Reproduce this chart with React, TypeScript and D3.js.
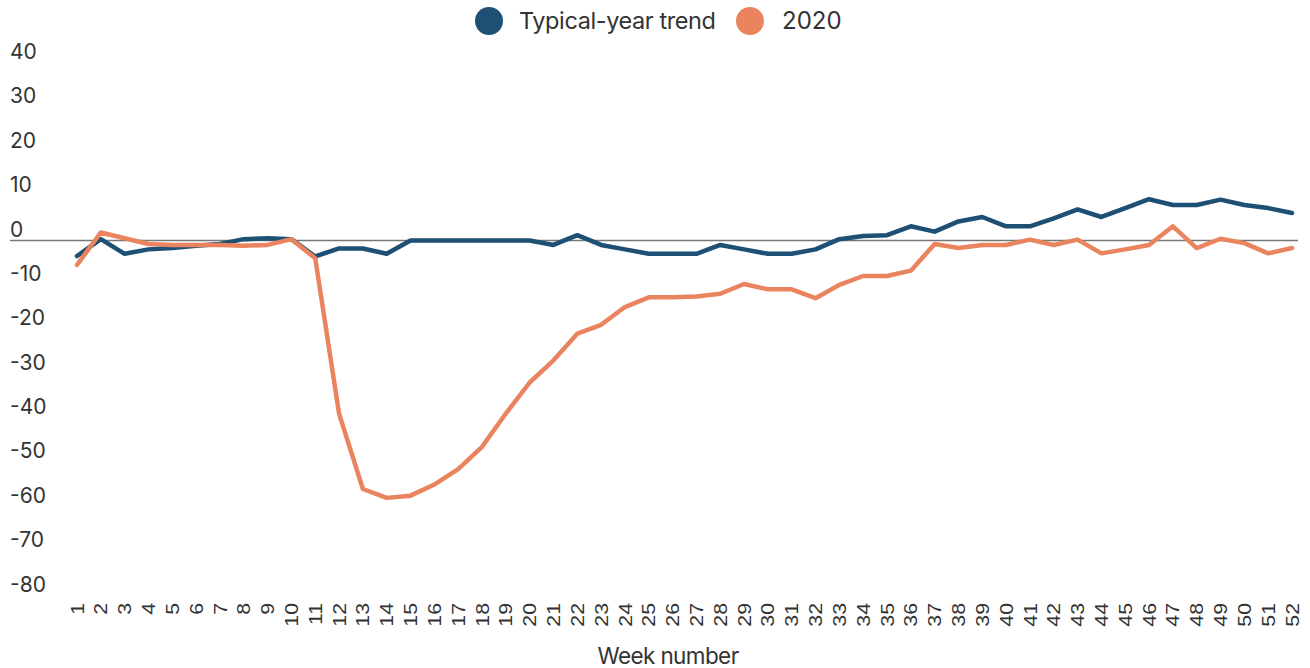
import React from "react";
import * as d3 from "d3";

const weeks = d3.range(1, 53);
const typicalYear = [-3.5, 0.3, -3, -2, -1.7, -1.2, -0.8, 0.3, 0.5, 0.3, -3.6, -1.8, -1.8, -3, 0, 0, 0, 0, 0, 0, -1, 1.2, -1, -2, -3, -3, -3, -1, -2, -3, -3, -2, 0.3, 1, 1.2, 3.2, 2, 4.3, 5.3, 3.2, 3.2, 5, 7, 5.3, 7.3, 9.3, 8, 8, 9.2, 8, 7.3, 6.2];
const year2020 = [-5.5, 1.8, 0.5, -0.8, -1, -1, -1, -1.2, -1, 0.3, -4, -39, -56, -58, -57.5, -55, -51.5, -46.5, -39, -32, -27, -21, -19, -15, -12.8, -12.8, -12.6, -12, -9.8, -11, -11, -13, -10, -8, -8, -6.8, -0.8, -1.7, -1, -1, 0.2, -1, 0.2, -2.9, -2, -1, 3.2, -1.7, 0.4, -0.6, -2.9, -1.7];
const yTicks = [40, 30, 20, 10, 0, -10, -20, -30, -40, -50, -60, -70, -80];
const seriesNames = ["Typical-year trend", "2020"];
const colors = ["#1e4f74", "#e9845f"];

const W = 1310;
const H = 668;
const FONT = "Inter, 'Noto Sans', sans-serif";
const LABEL_FONT = "'Liberation Sans', Arial, sans-serif";

export default function App() {
  const x = d3.scaleLinear().domain([1, 52]).range([77, 1292]);
  const y = d3.scaleLinear().domain([0, -80]).range([240.5, 595.5]);
  const line = d3
    .line<number>()
    .x((_, i) => x(weeks[i]))
    .y((d) => y(d));
  const series = [typicalYear, year2020];

  return (
    <svg
      width={W}
      height={H}
      style={{ position: "absolute", left: 0, top: 0, background: "#fff" }}
      fontFamily={FONT}
    >
      {/* legend */}
      <g>
        <circle cx={489} cy={21} r={14} fill={colors[0]} />
        <text x={519} y={29} fontSize={23.5} fill="#333" letterSpacing={-0.4}>
          {seriesNames[0]}
        </text>
        <circle cx={750} cy={21} r={14} fill={colors[1]} />
        <text x={782} y={29} fontSize={24} fill="#333">
          {seriesNames[1]}
        </text>
      </g>
      {/* y labels */}
      {yTicks.map((t) => (
        <text key={t} x={10} y={y(t) - 4} fontSize={21} fill="#333">
          {t}
        </text>
      ))}
      {/* zero line */}
      <line x1={10} x2={1298} y1={y(0)} y2={y(0)} stroke="#777" strokeWidth={1.5} />
      {/* lines */}
      {series.map((s, i) => (
        <path
          key={i}
          d={line(s) || ""}
          fill="none"
          stroke={colors[i]}
          strokeWidth={4.5}
          strokeLinejoin="round"
          strokeLinecap="round"
        />
      ))}
      {/* x labels */}
      {weeks.map((w) => (
        <text
          key={w}
          transform={`translate(${x(w)},${603}) rotate(-90) scale(1.12,1)`}
          textAnchor="end"
          dominantBaseline="central"
          fontSize={19}
          fontFamily={LABEL_FONT}
          fill="#333"
        >
          {w}
        </text>
      ))}
      <text x={668} y={664} textAnchor="middle" fontSize={22.5} fill="#333" letterSpacing={-0.6}>
        Week number
      </text>
    </svg>
  );
}
